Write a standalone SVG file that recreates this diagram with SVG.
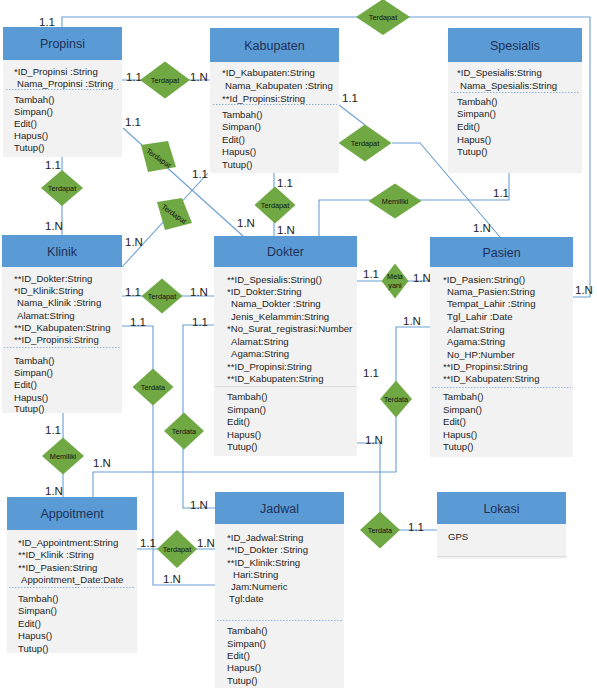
<svg xmlns="http://www.w3.org/2000/svg" width="597" height="700" viewBox="0 0 597 700">
<style>
.hdr{fill:#5b9bd5}
.body{fill:#f2f2f2}
.ht{font-family:"Liberation Sans",Arial,sans-serif;font-size:12.5px;fill:#1f3055;text-anchor:middle}
.bt{font-family:"Liberation Sans",Arial,sans-serif;font-size:9.6px;fill:#1e1e1e}
.sep{stroke:#8fb4dc;stroke-width:1;stroke-dasharray:1.5 1.5}
.sep2{stroke:#d9d9d9;stroke-width:1}
.dia{fill:#70a844}
.dt{font-family:"Liberation Sans",Arial,sans-serif;font-size:7.3px;fill:#111;text-anchor:middle}
.lbl{font-family:"Liberation Sans",Arial,sans-serif;font-size:11.5px;fill:#222}
.conn{stroke:#6a9fd4;stroke-width:1.1;fill:none}
</style>
<rect width="597" height="700" fill="#ffffff"/>

<g id="connectors">
<path class="conn" d="M62,27 V17 H590 V297 H573"/>
<path class="conn" d="M122,80 H210"/>
<path class="conn" d="M123,128 L243,236"/>
<path class="conn" d="M208,173 L122,267"/>
<path class="conn" d="M274,173 V236"/>
<path class="conn" d="M339,105 L365,125 M392,143 H420 L500,237"/>
<path class="conn" d="M319,236 V200 H509 V173"/>
<path class="conn" d="M62,157 V235"/>
<path class="conn" d="M122,296 H214"/>
<path class="conn" d="M357,281 H430"/>
<path class="conn" d="M63,413 V497"/>
<path class="conn" d="M122,326 H153 V585 H215"/>
<path class="conn" d="M214,325 H183 V508 H215"/>
<path class="conn" d="M137,549 H215"/>
<path class="conn" d="M430,327 H396 V472 H93 V497"/>
<path class="conn" d="M357,443 H380 V530 H437"/>
</g>

<g id="labels">
<text class="lbl" x="39" y="26">1.1</text>
<text class="lbl" x="126" y="81">1.1</text>
<text class="lbl" x="190" y="81">1.N</text>
<text class="lbl" x="125" y="126">1.1</text>
<text class="lbl" x="237" y="227">1.N</text>
<text class="lbl" x="192" y="178">1.1</text>
<text class="lbl" x="125" y="246">1.N</text>
<text class="lbl" x="277" y="187">1.1</text>
<text class="lbl" x="277" y="234">1.N</text>
<text class="lbl" x="342" y="102">1.1</text>
<text class="lbl" x="473" y="232">1.N</text>
<text class="lbl" x="493" y="197">1.1</text>
<text class="lbl" x="45" y="169">1.1</text>
<text class="lbl" x="45" y="230">1.N</text>
<text class="lbl" x="125" y="296">1.1</text>
<text class="lbl" x="190" y="296">1.N</text>
<text class="lbl" x="363" y="278">1.1</text>
<text class="lbl" x="413" y="282">1.N</text>
<text class="lbl" x="130" y="326">1.1</text>
<text class="lbl" x="192" y="326">1.1</text>
<text class="lbl" x="403" y="325">1.N</text>
<text class="lbl" x="363" y="377">1.1</text>
<text class="lbl" x="45" y="434">1.1</text>
<text class="lbl" x="45" y="495">1.N</text>
<text class="lbl" x="93" y="467">1.N</text>
<text class="lbl" x="190" y="509">1.N</text>
<text class="lbl" x="163" y="583">1.N</text>
<text class="lbl" x="140" y="547">1.1</text>
<text class="lbl" x="197" y="547">1.N</text>
<text class="lbl" x="365" y="444">1.N</text>
<text class="lbl" x="408" y="531">1.1</text>
<text class="lbl" x="575" y="294">1.N</text>
</g>

<g id="rel-propinsi-pasien"><polygon class="dia" points="356,17 383,-1 410,17 383,35"/><text class="dt" x="383" y="20">Terdapat</text></g>
<g id="rel-propinsi-kabupaten"><polygon class="dia" points="140,80 165,61.5 190,80 165,98.5"/><text class="dt" x="165" y="83">Terdapat</text></g>
<g id="rel-propinsi-dokter"><polygon class="dia" points="141,145 168,141 176,167 148,172"/><text class="dt" transform="translate(158.5,158) rotate(35)" y="2.5">Terdapat</text></g>
<g id="rel-kabupaten-klinik"><polygon class="dia" points="157,202 182,198 192,223 165,230"/><text class="dt" transform="translate(174,214) rotate(35)" y="2.5">Terdapat</text></g>
<g id="rel-kabupaten-dokter"><polygon class="dia" points="254.5,205 275,186.5 295.5,205 275,223.5"/><text class="dt" x="275" y="208">Terdapat</text></g>
<g id="rel-kabupaten-pasien"><polygon class="dia" points="338.5,143 365,124.5 391.5,143 365,161.5"/><text class="dt" x="365" y="146">Terdapat</text></g>
<g id="rel-spesialis-dokter"><polygon class="dia" points="368.5,201 395,183.5 421.5,201 395,218.5"/><text class="dt" x="395" y="204">Memiliki</text></g>
<g id="rel-propinsi-klinik"><polygon class="dia" points="41,188 62,170 83,188 62,206"/><text class="dt" x="62" y="191">Terdapat</text></g>
<g id="rel-klinik-dokter"><polygon class="dia" points="141.5,296 162,278.5 182.5,296 162,313.5"/><text class="dt" x="162" y="299">Terdapat</text></g>
<g id="rel-dokter-pasien"><polygon class="dia" points="381.5,281 395,263.5 408.5,281 395,298.5"/><text class="dt" x="395" y="279">Mela</text><text class="dt" x="395" y="288">yani</text></g>
<g id="rel-klinik-appointment"><polygon class="dia" points="42,456 63,437.5 84,456 63,474.5"/><text class="dt" x="63" y="459">Memiliki</text></g>
<g id="rel-klinik-jadwal"><polygon class="dia" points="132.5,387 153,368.5 173.5,387 153,405.5"/><text class="dt" x="153" y="390">Terdata</text></g>
<g id="rel-dokter-jadwal"><polygon class="dia" points="164,431 184,412.5 204,431 184,449.5"/><text class="dt" x="184" y="434">Terdata</text></g>
<g id="rel-appointment-jadwal"><polygon class="dia" points="157,549 177,530 197,549 177,568"/><text class="dt" x="177" y="552">Terdapat</text></g>
<g id="rel-pasien-appointment"><polygon class="dia" points="380,399 396,380.5 412,399 396,417.5"/><text class="dt" x="396" y="402">Terdata</text></g>
<g id="rel-dokter-lokasi"><polygon class="dia" points="360,530 380,511.5 400,530 380,548.5"/><text class="dt" x="380" y="533">Terdata</text></g>

<g id="propinsi">
<rect class="body" x="3" y="60" width="119" height="97"/>
<rect class="hdr" x="3" y="27" width="119" height="33"/>
<text class="ht" x="62.5" y="48">Propinsi</text>
<text class="bt" x="14" y="74.5">*ID_Propinsi :String</text>
<text class="bt" x="17" y="86.5">Nama_Propinsi :String</text>
<line class="sep" x1="6" y1="89.5" x2="120" y2="89.5"/>
<text class="bt" x="14" y="102.5">Tambah()</text>
<text class="bt" x="14" y="114.5">Simpan()</text>
<text class="bt" x="14" y="126.5">Edit()</text>
<text class="bt" x="14" y="138.5">Hapus()</text>
<text class="bt" x="14" y="150.5">Tutup()</text>
</g>

<g id="kabupaten">
<rect class="body" x="210" y="62" width="129" height="111"/>
<rect class="hdr" x="210" y="28" width="129" height="34"/>
<text class="ht" x="274.5" y="49.5">Kabupaten</text>
<text class="bt" x="222" y="75.5">*ID_Kabupaten:String</text>
<text class="bt" x="225" y="88.5">Nama_Kabupaten :String</text>
<text class="bt" x="222" y="101.5">**Id_Propinsi:String</text>
<line class="sep" x1="213" y1="104.5" x2="337" y2="104.5"/>
<text class="bt" x="222" y="117.5">Tambah()</text>
<text class="bt" x="222" y="129.5">Simpan()</text>
<text class="bt" x="222" y="142.5">Edit()</text>
<text class="bt" x="222" y="154.5">Hapus()</text>
<text class="bt" x="222" y="167.5">Tutup()</text>
</g>

<g id="spesialis">
<rect class="body" x="448" y="62" width="134" height="111"/>
<rect class="hdr" x="448" y="28" width="134" height="34"/>
<text class="ht" x="515" y="49.5">Spesialis</text>
<text class="bt" x="457" y="75.5">*ID_Spesialis:String</text>
<text class="bt" x="460" y="88.5">Nama_Spesialis:String</text>
<line class="sep" x1="451" y1="92.5" x2="580" y2="92.5"/>
<text class="bt" x="457" y="104.5">Tambah()</text>
<text class="bt" x="457" y="116.5">Simpan()</text>
<text class="bt" x="457" y="129.5">Edit()</text>
<text class="bt" x="457" y="142.5">Hapus()</text>
<text class="bt" x="457" y="154.5">Tutup()</text>
</g>

<g id="klinik">
<rect class="body" x="2" y="267" width="120" height="146"/>
<rect class="hdr" x="2" y="235" width="120" height="32"/>
<text class="ht" x="62" y="255.5">Klinik</text>
<text class="bt" x="14" y="281.5">**ID_Dokter:String</text>
<text class="bt" x="14" y="293.5">*ID_Klinik:String</text>
<text class="bt" x="17" y="305.5">Nama_Klinik :String</text>
<text class="bt" x="17" y="318.5">Alamat:String</text>
<text class="bt" x="14" y="330.5">**ID_Kabupaten:String</text>
<text class="bt" x="14" y="342.5">**ID_Propinsi:String</text>
<line class="sep" x1="4" y1="347.5" x2="120" y2="347.5"/>
<text class="bt" x="14" y="363.5">Tambah()</text>
<text class="bt" x="14" y="375.5">Simpan()</text>
<text class="bt" x="14" y="387.5">Edit()</text>
<text class="bt" x="14" y="400.5">Hapus()</text>
<text class="bt" x="14" y="412">Tutup()</text>
</g>

<g id="dokter">
<rect class="body" x="214" y="267" width="143" height="189"/>
<rect class="hdr" x="214" y="236" width="143" height="31"/>
<text class="ht" x="285.5" y="256">Dokter</text>
<text class="bt" x="227" y="282.5">**ID_Spesialis:String()</text>
<text class="bt" x="227" y="294.5">*ID_Dokter:String</text>
<text class="bt" x="231" y="306.5">Nama_Dokter :String</text>
<text class="bt" x="231" y="319.5">Jenis_Kelammin:String</text>
<text class="bt" x="227" y="331.5">*No_Surat_registrasi:Number</text>
<text class="bt" x="231" y="344.5">Alamat:String</text>
<text class="bt" x="231" y="356.5">Agama:String</text>
<text class="bt" x="227" y="369.5">**ID_Propinsi:String</text>
<text class="bt" x="227" y="381.5">**ID_Kabupaten:String</text>
<line class="sep2" x1="215" y1="386.5" x2="356" y2="386.5"/>
<text class="bt" x="227" y="399.5">Tambah()</text>
<text class="bt" x="227" y="412.5">Simpan()</text>
<text class="bt" x="227" y="424.5">Edit()</text>
<text class="bt" x="227" y="437.5">Hapus()</text>
<text class="bt" x="227" y="449.5">Tutup()</text>
</g>

<g id="pasien">
<rect class="body" x="430" y="267" width="143" height="190"/>
<rect class="hdr" x="430" y="237" width="143" height="30"/>
<text class="ht" x="501.5" y="256.5">Pasien</text>
<text class="bt" x="443" y="282.5">*ID_Pasien:String()</text>
<text class="bt" x="447" y="294.5">Nama_Pasien:String</text>
<text class="bt" x="447" y="306.5">Tempat_Lahir :String</text>
<text class="bt" x="447" y="319.5">Tgl_Lahir :Date</text>
<text class="bt" x="447" y="332.5">Alamat:String</text>
<text class="bt" x="447" y="344.5">Agama:String</text>
<text class="bt" x="447" y="357.5">No_HP:Number</text>
<text class="bt" x="443" y="369.5">**ID_Propinsi:String</text>
<text class="bt" x="443" y="381.5">**ID_Kabupaten:String</text>
<line class="sep" x1="432" y1="387.5" x2="571" y2="387.5"/>
<text class="bt" x="443" y="399.5">Tambah()</text>
<text class="bt" x="443" y="412.5">Simpan()</text>
<text class="bt" x="443" y="424.5">Edit()</text>
<text class="bt" x="443" y="437.5">Hapus()</text>
<text class="bt" x="443" y="449.5">Tutup()</text>
</g>

<g id="appoitment">
<rect class="body" x="7" y="530" width="130" height="123"/>
<rect class="hdr" x="7" y="497" width="130" height="33"/>
<text class="ht" x="72" y="518">Appoitment</text>
<text class="bt" x="18" y="545.5">*ID_Appointment:String</text>
<text class="bt" x="18" y="558">**ID_Klinik :String</text>
<text class="bt" x="18" y="570.5">**ID_Pasien:String</text>
<text class="bt" x="21" y="583">Appointment_Date:Date</text>
<line class="sep" x1="9" y1="587.5" x2="135" y2="587.5"/>
<text class="bt" x="18" y="601.5">Tambah()</text>
<text class="bt" x="18" y="614">Simpan()</text>
<text class="bt" x="18" y="626.5">Edit()</text>
<text class="bt" x="18" y="639">Hapus()</text>
<text class="bt" x="18" y="651.5">Tutup()</text>
</g>

<g id="jadwal">
<rect class="body" x="215" y="524" width="129" height="164"/>
<rect class="hdr" x="215" y="492" width="129" height="32"/>
<text class="ht" x="279.5" y="512.5">Jadwal</text>
<text class="bt" x="227" y="540.5">*ID_Jadwal:String</text>
<text class="bt" x="227" y="552.5">**ID_Dokter :String</text>
<text class="bt" x="227" y="565.5">**ID_Klinik:String</text>
<text class="bt" x="233" y="577.5">Hari:String</text>
<text class="bt" x="231" y="589.5">Jam:Numeric</text>
<text class="bt" x="229" y="601.5">Tgl:date</text>
<line class="sep" x1="217" y1="620.5" x2="342" y2="620.5"/>
<text class="bt" x="227" y="633.5">Tambah()</text>
<text class="bt" x="227" y="646.5">Simpan()</text>
<text class="bt" x="227" y="658.5">Edit()</text>
<text class="bt" x="227" y="670.5">Hapus()</text>
<text class="bt" x="227" y="683.5">Tutup()</text>
</g>

<g id="lokasi">
<rect class="body" x="437" y="524" width="129" height="35"/>
<rect class="hdr" x="437" y="492" width="129" height="32"/>
<text class="ht" x="501.5" y="512.5">Lokasi</text>
<text class="bt" x="448" y="539.5">GPS</text>
<line class="sep2" x1="437" y1="556.5" x2="566" y2="556.5"/>
</g>
</svg>
